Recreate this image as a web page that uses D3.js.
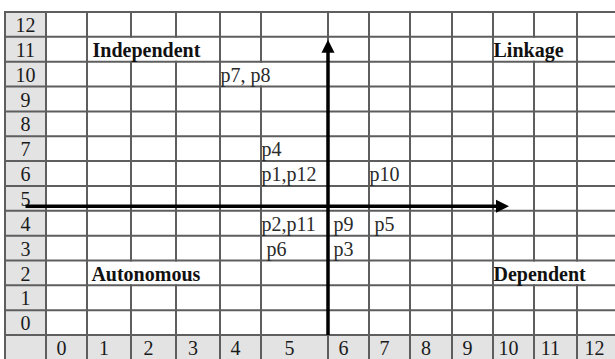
<!DOCTYPE html>
<html>
<head>
<meta charset="utf-8">
<script src="https://cdn.jsdelivr.net/npm/d3@7"></script>
<style>
  body { margin: 0; background: #fff; }
  svg text { font-family: "Liberation Serif", "Times New Roman", serif; white-space: pre; }
</style>
</head>
<body>
<div id="chart"></div>
<script>
// table rows (top to bottom) and columns
var rowLabels = [12, 11, 10, 9, 8, 7, 6, 5, 4, 3, 2, 1, 0];
var colLabels = [0, 1, 2, 3, 4, 5, 6, 7, 8, 9, 10, 11, 12];

// plotted parameters: text, column, row, last column of merged cell
var pointLabels = ["p7, p8", "p4", "p1,p12", "p10", "p2,p11", " p9", " p5", " p6", " p3"];
var pointCols   = [4, 5, 5, 7, 5, 6, 7, 5, 6];
var pointRows   = [10, 7, 6, 6, 4, 4, 4, 3, 3];
var pointSpans  = [5, 5, 5, 7, 5, 6, 7, 5, 6];

// quadrant names
var quadLabels = [" Independent", "Linkage", " Autonomous", "Dependent"];
var quadCols   = [1, 10, 1, 10];
var quadRows   = [11, 11, 2, 2];
var quadSpans  = [3, 11, 3, 12];

// origin of the cross (column edge / row)
var axisCol = 6, axisRow = 4;

var svgWidth = 615, svgHeight = 359;
var tableLeft = 5, tableTop = 12, labelW = 41, rowH = 24.85;
// column edges are not evenly spaced in the source table
var colEdges = [46, 87, 131, 176, 220, 261, 328, 369, 410, 452, 493, 534, 577, 622];

var svg = d3.select("#chart").append("svg")
    .attr("width", svgWidth)
    .attr("height", svgHeight);

var x = d3.scaleLinear().domain(d3.range(colEdges.length)).range(colEdges);
var y = d3.scaleBand()
    .domain(rowLabels.concat(["bottom"]))
    .range([tableTop, tableTop + rowH * (rowLabels.length + 1)]);

var gridColor = "#5e5e5e", headFill = "#e3e3e3";
var rightEdge = colEdges[colEdges.length - 1];

// header backgrounds
svg.append("rect")
    .attr("x", tableLeft).attr("y", y(12))
    .attr("width", labelW).attr("height", rowH * (rowLabels.length + 1))
    .attr("fill", headFill);
svg.append("rect")
    .attr("x", tableLeft).attr("y", y("bottom"))
    .attr("width", rightEdge - tableLeft).attr("height", rowH)
    .attr("fill", headFill);

// merged cells
var merges = [];
pointLabels.forEach(function(d, i) {
    if (pointSpans[i] > pointCols[i]) merges.push({row: pointRows[i], from: pointCols[i], to: pointSpans[i]});
});
quadLabels.forEach(function(d, i) {
    if (quadSpans[i] > quadCols[i]) merges.push({row: quadRows[i], from: quadCols[i], to: quadSpans[i]});
});

// vertical cell borders, row by row
var vsegs = [];
y.domain().forEach(function(r) {
    vsegs.push({x: tableLeft, r: r});
    colEdges.forEach(function(e, i) {
        var hidden = merges.some(function(m) { return m.row === r && i > m.from && i <= m.to; });
        if (!hidden) vsegs.push({x: x(i), r: r});
    });
});

var grid = svg.append("g").attr("class", "grid")
    .attr("stroke", gridColor).attr("stroke-width", 2);

grid.selectAll(".v")
    .data(vsegs)
    .enter().append("line")
    .attr("class", "v")
    .attr("x1", function(d) { return d.x; })
    .attr("x2", function(d) { return d.x; })
    .attr("y1", function(d) { return y(d.r) - 1; })
    .attr("y2", function(d) { return y(d.r) + rowH + 1; });

grid.selectAll(".h")
    .data(d3.range(rowLabels.length + 2))
    .enter().append("line")
    .attr("class", "h")
    .attr("x1", tableLeft - 1).attr("x2", rightEdge)
    .attr("y1", function(d) { return tableTop + d * rowH; })
    .attr("y2", function(d) { return tableTop + d * rowH; });

// row labels
svg.selectAll(".rowlab")
    .data(rowLabels)
    .enter().append("text")
    .attr("class", "rowlab")
    .attr("x", tableLeft + labelW / 2)
    .attr("y", function(d) { return y(d) + 20; })
    .attr("text-anchor", "middle")
    .style("font-size", "20px")
    .attr("fill", "#1a1a1a")
    .text(function(d) { return d; });

// column labels
svg.selectAll(".collab")
    .data(colLabels)
    .enter().append("text")
    .attr("class", "collab")
    .attr("x", function(d) { return (x(d) + x(d + 1)) / 2 - 5; })
    .attr("y", y("bottom") + 20)
    .attr("text-anchor", "middle")
    .style("font-size", "20px")
    .attr("fill", "#1a1a1a")
    .text(function(d) { return d; });

// axes with arrowheads
var ox = x(axisCol), oy = y(axisRow) - 4.5;
var axes = svg.append("g").attr("class", "axes");
axes.append("line")
    .attr("x1", ox).attr("x2", ox)
    .attr("y1", y(11) + 12).attr("y2", y(0) + rowH)
    .attr("stroke", "#000").attr("stroke-width", 3.5);
axes.append("path")
    .attr("d", "M" + ox + "," + (y(11) + 3) + "L" + (ox - 6.5) + "," + (y(11) + 16) + "L" + (ox + 6.5) + "," + (y(11) + 16) + "Z")
    .attr("fill", "#000");
axes.append("line")
    .attr("x1", tableLeft + labelW / 2).attr("x2", x(10) + 4)
    .attr("y1", oy).attr("y2", oy)
    .attr("stroke", "#000").attr("stroke-width", 3.5);
axes.append("path")
    .attr("d", "M" + (x(10) + 16) + "," + oy + "L" + (x(10) + 3) + "," + (oy - 6.5) + "L" + (x(10) + 3) + "," + (oy + 6.5) + "Z")
    .attr("fill", "#000");

// parameter labels
svg.selectAll(".point")
    .data(pointLabels)
    .enter().append("text")
    .attr("class", "point")
    .attr("x", function(d, i) { return x(pointCols[i]) + 0.5; })
    .attr("y", function(d, i) { return y(pointRows[i]) + 20; })
    .style("font-size", "20px")
    .attr("fill", "#2a2a2a")
    .text(function(d) { return d; });

// quadrant names
svg.selectAll(".quad")
    .data(quadLabels)
    .enter().append("text")
    .attr("class", "quad")
    .attr("x", function(d, i) { return x(quadCols[i]) + 0.5; })
    .attr("y", function(d, i) { return y(quadRows[i]) + 20; })
    .style("font-size", "20px")
    .style("font-weight", "bold")
    .attr("fill", "#111")
    .text(function(d) { return d; });
</script>
</body>
</html>
